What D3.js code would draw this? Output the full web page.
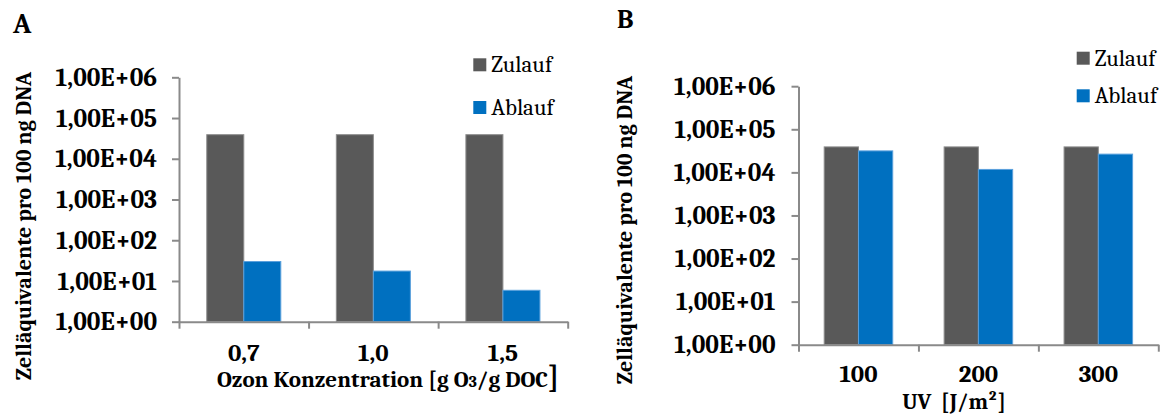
<!DOCTYPE html>
<html>
<head>
<meta charset="utf-8">
<script src="https://cdn.jsdelivr.net/npm/d3@7.9.0/dist/d3.min.js"></script>
<style>
  body { margin: 0; background: #fff; }
  svg { display: block; }
  .domain, .tick line { stroke: #8a8a8a; stroke-width: 2; }
</style>
</head>
<body>
<svg id="chart" width="1168" height="414"></svg>
<script>
// Data
const seriesNames = ["Zulauf", "Ablauf"];
const seriesColors = ["#595959", "#0070C0"];
const seriesStrokes = ["#8c8c8c", "#5aa0dc"];

const ozonCategories = ["0,7", "1,0", "1,5"];
const ozonZulauf = [39000, 39000, 39000];
const ozonAblauf = [30, 17.5, 5.9];

const uvCategories = ["100", "200", "300"];
const uvZulauf = [39000, 39000, 39000];
const uvAblauf = [31500, 11700, 26500];

const yTicks = [1, 10, 100, 1000, 10000, 100000, 1000000];
const yTickLabels = ["1,00E+00", "1,00E+01", "1,00E+02", "1,00E+03", "1,00E+04", "1,00E+05", "1,00E+06"];

const yTitle = "Zelläquivalente pro 100 ng DNA";

const FONT = "Caladea, Cambria, 'Liberation Serif', serif";

const svg = d3.select("#chart").attr("font-family", FONT);

function drawPanel(p) {
  const g = svg.append("g");

  // scales
  const y = d3.scaleLog().domain([1, 1e6]).range([p.yBottom, p.yTop]);
  const x = d3.scaleBand().domain(p.categories).range([p.xLeft, p.xRight])
    .paddingInner(0.4286).paddingOuter(0.2143);
  const xs = d3.scaleBand().domain(seriesNames).range([0, x.bandwidth()]);
  const xEdge = d3.scaleLinear().domain([0, p.categories.length]).range([p.xLeft, p.xRight]);

  const rows = p.categories.map((c, i) => ({ cat: c, values: [p.zulauf[i], p.ablauf[i]] }));

  // bars
  g.selectAll(".grp")
    .data(rows)
    .join("g")
    .attr("transform", d => `translate(${x(d.cat)},0)`)
    .selectAll("rect")
    .data(d => d.values.map((v, k) => ({ key: seriesNames[k], k, v })))
    .join("rect")
    .attr("x", d => xs(d.key))
    .attr("width", xs.bandwidth())
    .attr("y", d => y(d.v))
    .attr("height", d => y(1) - y(d.v))
    .attr("fill", d => seriesColors[d.k])
    .attr("stroke", d => seriesStrokes[d.k])
    .attr("stroke-width", 1);

  // y axis
  const yAxis = g.append("g")
    .attr("transform", `translate(${p.xLeft},0)`)
    .call(d3.axisLeft(y).tickValues(yTicks)
      .tickFormat((d, i) => yTickLabels[i])
      .tickSize(7).tickSizeOuter(0).tickPadding(p.yPad));
  yAxis.attr("font-family", FONT);
  yAxis.selectAll("text")
    .attr("font-family", FONT)
    .attr("font-weight", "bold")
    .attr("font-size", 25.5)
    .attr("fill", "#000");

  // x axis: boundary ticks between categories
  g.append("g")
    .attr("transform", `translate(0,${p.yBottom})`)
    .call(d3.axisBottom(xEdge).tickValues(d3.range(p.categories.length + 1))
      .tickFormat("").tickSize(7).tickSizeOuter(0));

  // x axis labels
  const xAxis = g.append("g")
    .attr("transform", `translate(0,${p.yBottom})`)
    .call(d3.axisBottom(x).tickSize(0).tickPadding(p.xPad));
  xAxis.attr("font-family", FONT);
  xAxis.select(".domain").remove();
  xAxis.selectAll("text")
    .attr("font-family", FONT)
    .attr("font-weight", "bold")
    .attr("font-size", 25)
    .attr("fill", "#000");

  // panel letter
  g.append("text")
    .attr("x", p.letterX).attr("y", p.letterY)
    .attr("font-weight", "bold").attr("font-size", p.letterSize)
    .text(p.letter);

  // y title
  g.append("text")
    .attr("transform", `translate(${p.yTitleX},${p.yTitleY}) rotate(-90)`)
    .attr("text-anchor", "middle")
    .attr("font-weight", "bold").attr("font-size", 22)
    .text(yTitle);

  // x title
  const xt = g.append("text")
    .attr("x", p.xTitleX).attr("y", p.xTitleY)
    .attr("text-anchor", "middle")
    .attr("font-weight", "bold").attr("font-size", p.xTitleSize);
  p.xTitle.forEach(part => {
    const t = xt.append("tspan").text(part.t);
    if (part.size) t.attr("font-size", part.size);
  });

  // legend
  const leg = g.selectAll(".leg")
    .data(seriesNames)
    .join("g")
    .attr("transform", (d, i) => `translate(${p.legX},${p.legY + i * p.legStep})`);
  leg.append("rect")
    .attr("width", 13).attr("height", 13)
    .attr("fill", (d, i) => seriesColors[i]);
  leg.append("text")
    .attr("x", 18).attr("y", 14)
    .attr("font-size", 23)
    .text(d => d);
}

drawPanel({
  letter: "A", letterX: 13, letterY: 33, letterSize: 28,
  categories: ozonCategories, zulauf: ozonZulauf, ablauf: ozonAblauf,
  xLeft: 179, xRight: 567.7, yTop: 77.3, yBottom: 321.7,
  yPad: 15, xPad: 22,
  yTitleX: 31, yTitleY: 226,
  xTitleX: 388, xTitleY: 387, xTitleSize: 23,
  xTitle: [{ t: "Ozon Konzentration [g O" }, { t: "3", size: 16 }, { t: "/g DOC" }, { t: "]", size: 30 }],
  legX: 473.3, legY: 58.3, legStep: 42.7
});

drawPanel({
  letter: "B", letterX: 617, letterY: 28.3, letterSize: 26,
  categories: uvCategories, zulauf: uvZulauf, ablauf: uvAblauf,
  xLeft: 798.5, xRight: 1158.3, yTop: 86.2, yBottom: 344.7,
  yPad: 16, xPad: 20,
  yTitleX: 632, yTitleY: 230,
  xTitleX: 954, xTitleY: 408.5, xTitleSize: 22,
  xTitle: [{ t: "UV\u00a0 [J/m\u00b2]" }],
  legX: 1076.7, legY: 51.7, legStep: 37.6
});
</script>
</body>
</html>
